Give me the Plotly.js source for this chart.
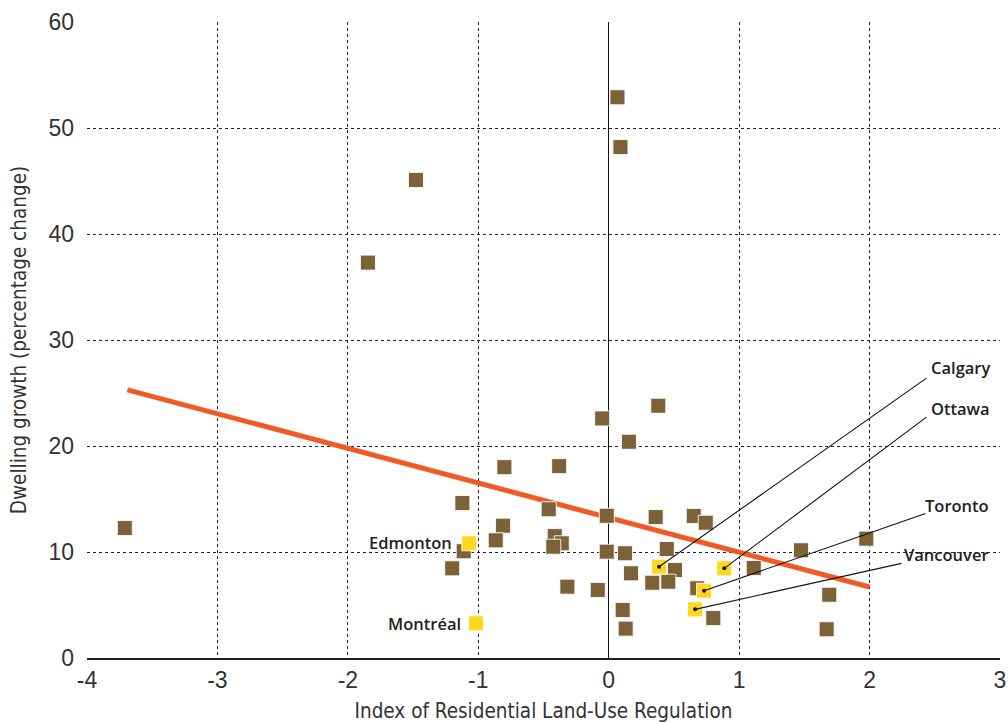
<!DOCTYPE html>
<html>
<head>
<meta charset="utf-8">
<script src="https://cdn.plot.ly/plotly-3.0.1.min.js"></script>
<style>html,body{margin:0;padding:0;background:#fff;}#chart{width:1008px;height:723px;}</style>
</head>
<body>
<div id="chart"></div>
<script>
// Brown markers: other metropolitan areas
const otherX = [-3.71,-1.478,-1.846,0.067,0.09,-0.05,0.38,0.155,-0.80,-0.38,-1.122,-0.46,-0.015,0.36,-0.81,-0.866,-1.112,-0.414,-0.36,-0.425,-0.015,0.125,0.445,0.508,-1.20,0.171,0.334,0.457,-0.317,-0.084,0.107,0.13,0.652,0.744,1.975,1.474,1.112,0.679,1.691,0.802,1.671];
const otherY = [12.26,45.1,37.3,52.9,48.2,22.6,23.8,20.4,18.0,18.1,14.62,14.03,13.42,13.3,12.48,11.1,10.07,11.5,10.82,10.5,10.03,9.88,10.28,8.3,8.46,7.99,7.1,7.2,6.73,6.42,4.53,2.77,13.4,12.76,11.26,10.16,8.49,6.58,5.97,3.77,2.71];

// Yellow markers: named cities
const cityNames = ["Edmonton","Montréal","Calgary","Ottawa","Toronto","Vancouver"];
const cityX = [-1.069,-1.017,0.386,0.886,0.731,0.662];
const cityY = [10.82,3.27,8.61,8.46,6.35,4.59];

// Trend line
const trendX = [-3.69, 2.0];
const trendY = [25.3, 6.7];

const xTicks = [-4,-3,-2,-1,0,1,2,3];
const yTicks = [0,10,20,30,40,50,60];

const labelFont = {family:'Open Sans, Liberation Sans, sans-serif', size:16.5, color:'#222', weight:600};

// label placement (layout): [label x, label y, leader tail x, leader tail y] for right-side labels
const rightLabels = {
  "Calgary":   [2.935, 27.45, 2.448, 26.5],
  "Ottawa":    [2.935, 23.5, 2.448, 22.83],
  "Toronto":   [2.93, 14.43, 2.44, 13.68],
  "Vancouver": [2.93, 9.81, 2.256, 8.96]
};
const leftLabels = {
  "Edmonton": [-1.19, 10.85],
  "Montréal": [-1.12, 3.3]
};

const annotations = [];
cityNames.forEach((n,i)=>{
  if (rightLabels[n]) {
    const p = rightLabels[n];
    annotations.push({x:p[0], y:p[1], xref:'x', yref:'y', text:n, showarrow:false, xanchor:'right', yanchor:'middle', font:labelFont});
    annotations.push({x:cityX[i], y:cityY[i], xref:'x', yref:'y', ax:p[2], ay:p[3], axref:'x', ayref:'y', text:'', showarrow:true, arrowhead:6, arrowsize:0.9, arrowwidth:1.1, arrowcolor:'#111', standoff:0, startstandoff:0});
  } else if (leftLabels[n]) {
    const p = leftLabels[n];
    annotations.push({x:p[0], y:p[1], xref:'x', yref:'y', text:n, showarrow:false, xanchor:'right', yanchor:'middle', font:labelFont});
  }
});

const traces = [
  {x:trendX, y:trendY, type:'scatter', mode:'lines', line:{color:'#f15a24', width:5}, hoverinfo:'skip'},
  {x:otherX, y:otherY, type:'scatter', mode:'markers', marker:{symbol:'square', size:15, color:'#7b6238', line:{color:'rgba(255,255,255,0.85)', width:1}}},
  {x:cityX, y:cityY, type:'scatter', mode:'markers', text:cityNames, marker:{symbol:'square', size:15, color:'#ffd71f', line:{color:'rgba(255,255,255,0.85)', width:1}}}
];

const tickFont = {family:'Liberation Sans, Arial, sans-serif', size:23, color:'#333'};
const titleFont = {family:'DejaVu Sans Condensed, Liberation Sans Narrow, sans-serif', size:20.5, color:'#333'};

const layout = {
  width:1008, height:723,
  margin:{l:87, r:8, t:22, b:65},
  paper_bgcolor:'#fff', plot_bgcolor:'#fff',
  showlegend:false,
  xaxis:{
    range:[-4,3], tickvals:xTicks, ticktext:xTicks.map(String),
    showgrid:true, gridcolor:'#222', gridwidth:1, griddash:'dot',
    zeroline:true, zerolinecolor:'#111', zerolinewidth:1.3,
    showline:true, linecolor:'#222', linewidth:1.5,
    ticks:'', tickfont:tickFont, ticklabelstandoff:1,
    title:{text:'Index of Residential Land-Use Regulation', font:titleFont, standoff:14}
  },
  yaxis:{
    range:[0,60], tickvals:yTicks, ticktext:yTicks.map(String),
    showgrid:true, gridcolor:'#222', gridwidth:1, griddash:'dot',
    zeroline:false, showline:false,
    ticks:'', tickfont:tickFont, ticklabelstandoff:12,
    title:{text:'Dwelling growth (percentage change)', font:titleFont, standoff:16}
  },
  annotations:annotations
};

Plotly.newPlot('chart', traces, layout, {displayModeBar:false, staticPlot:true});
</script>
</body>
</html>
